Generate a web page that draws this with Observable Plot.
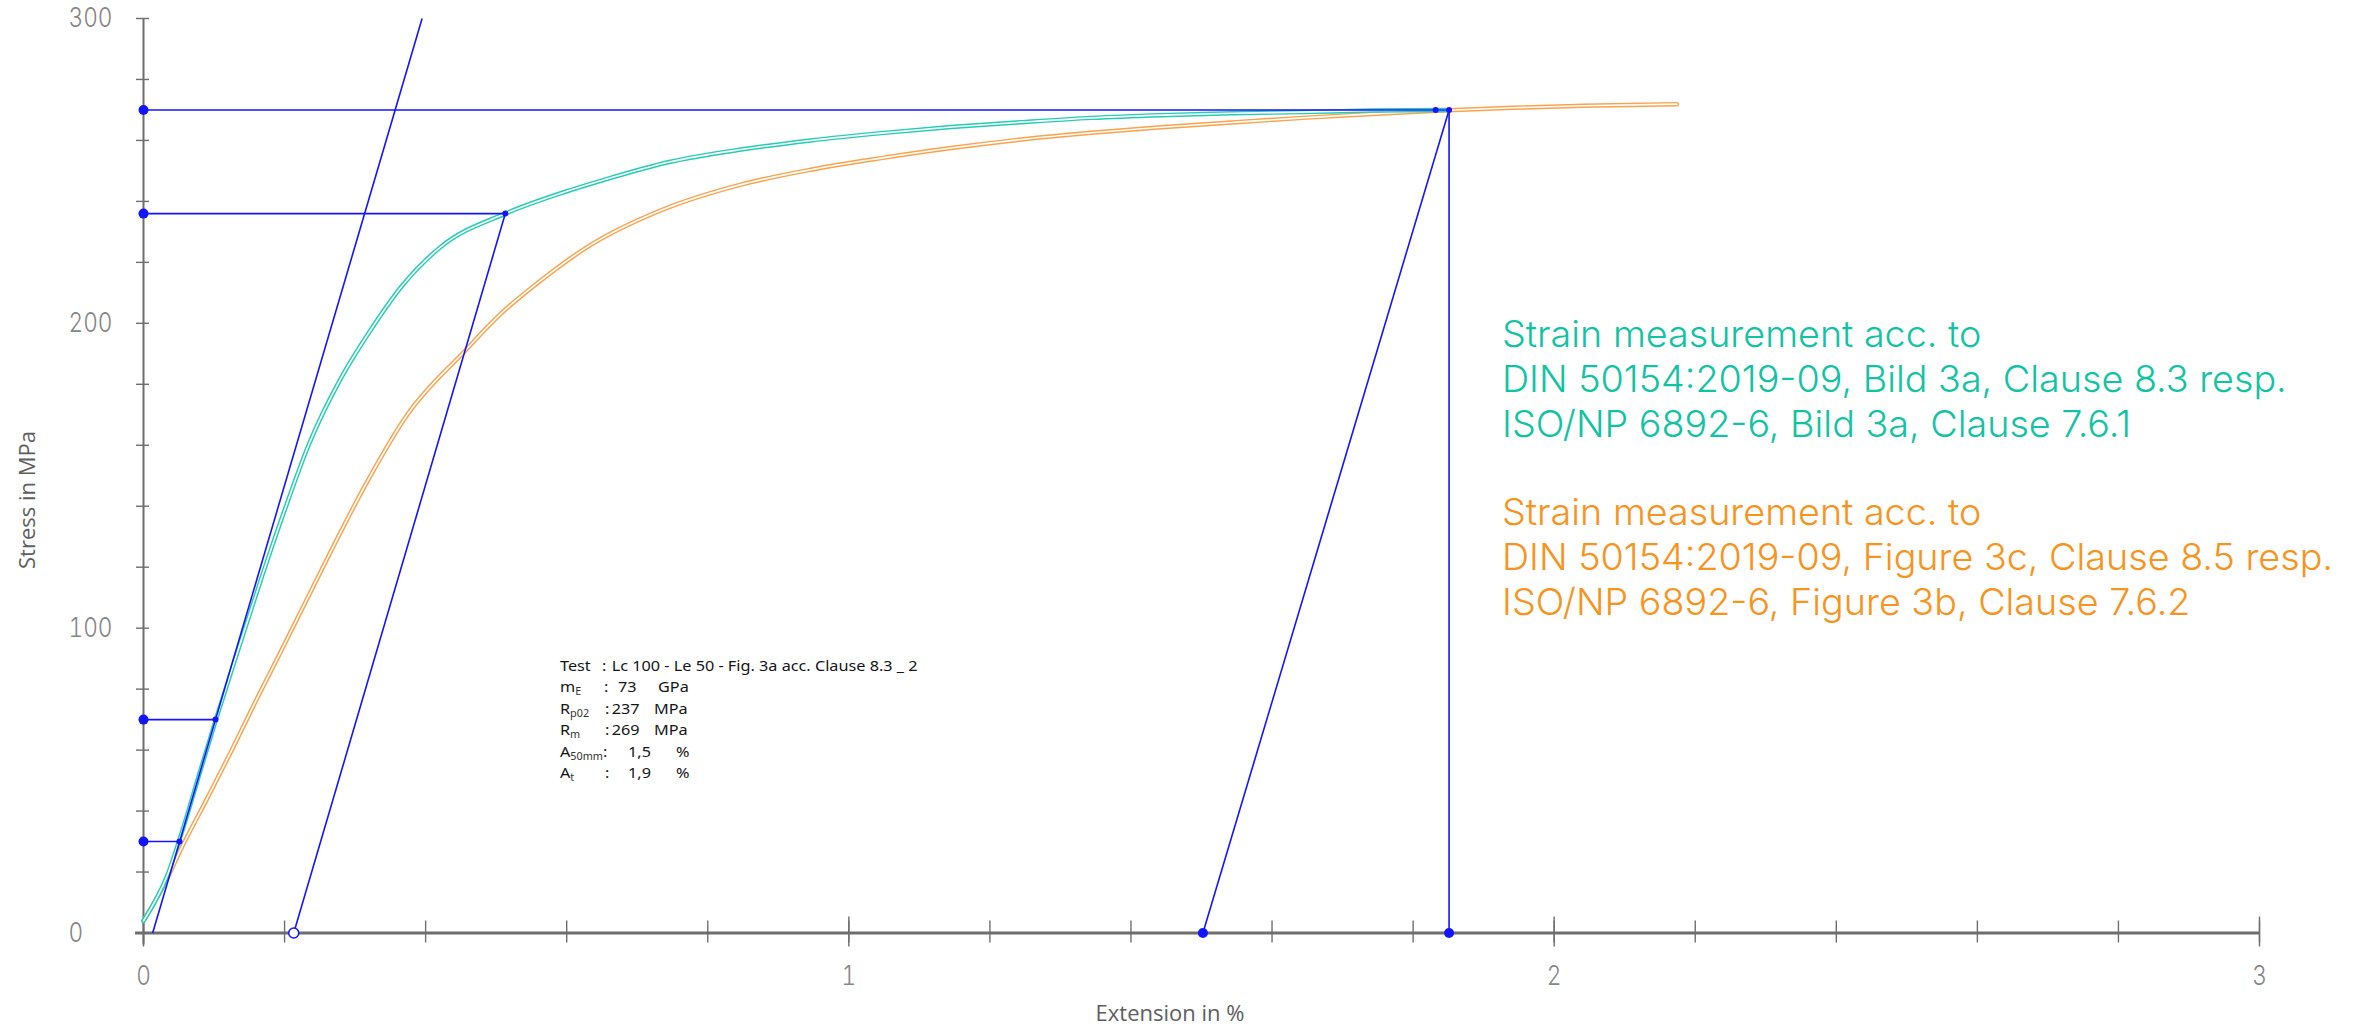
<!DOCTYPE html>
<html><head><meta charset="utf-8">
<script src="https://cdn.jsdelivr.net/npm/d3@7"></script>
<script src="https://cdn.jsdelivr.net/npm/@observablehq/plot@0.6"></script>
<style>
body{margin:0;background:#fff;}
#wrap{position:relative;width:2354px;height:1027px;overflow:hidden;background:#fff;}
#wrap svg{position:absolute;left:0;top:0;}
</style></head><body><div id="wrap"></div>
<script>
// ---- data ----
const tealExt = [0, 0.034, 0.057, 0.079, 0.104, 0.133, 0.168, 0.199, 0.234, 0.280, 0.317, 0.369, 0.421, 0.513, 0.596, 0.652, 0.747, 0.847, 0.946, 1.046, 1.145, 1.245, 1.344, 1.443, 1.543, 1.643, 1.742, 1.846];
const tealStress = [4, 19, 35, 52, 71, 92, 117, 138, 160, 182, 196, 213, 225, 236, 243, 247, 253, 257, 260, 262.4, 264.4, 266, 267.4, 268.3, 268.9, 269.3, 269.8, 270];
const orangeExt = [0, 0.034, 0.052, 0.090, 0.123, 0.159, 0.194, 0.222, 0.263, 0.317, 0.374, 0.456, 0.506, 0.563, 0.629, 0.733, 0.847, 0.946, 1.046, 1.145, 1.245, 1.344, 1.443, 1.543, 1.643, 1.742, 1.842, 1.941, 2.041, 2.174];
const orangeStress = [4, 18, 27, 44, 59, 76, 92, 105, 124, 148, 170, 191, 203, 214, 225, 237, 245.5, 250.4, 254.2, 257.5, 260.3, 262.5, 264.3, 265.9, 267.4, 268.7, 269.8, 270.7, 271.4, 271.9];
// construction lines (start/end extension, start/end stress)
const lineNames = ["elastic", "offset", "unload", "vertical"];
const lineExt1 = [0.013, 0.213, 1.502, 1.851];
const lineExt2 = [0.395, 0.513, 1.851, 1.851];
const lineStress1 = [0, 0, 0, 0];
const lineStress2 = [300, 236, 270, 270];
// horizontal markers from y axis
const markStress = [30, 70, 236, 270];
const markExt = [0.051, 0.102, 0.513, 1.851];
// dots
const bigDotExt = [0, 0, 0, 0, 1.502, 1.851];
const bigDotStress = [30, 70, 236, 270, 0, 0];
const smallDotExt = [0.051, 0.102, 0.513, 1.832, 1.851];
const smallDotStress = [30, 70, 236, 270, 270];
const openDotExt = [0.213];
const openDotStress = [0];
// ticks
const xTicks = [0, 0.2, 0.4, 0.6, 0.8, 1, 1.2, 1.4, 1.6, 1.8, 2, 2.2, 2.4, 2.6, 2.8, 3];
const xMajor = [0, 1, 2, 3];
const yTicks = [0, 20, 40, 60, 80, 100, 120, 140, 160, 180, 200, 220, 240, 260, 280, 300];
const yMajor = [0, 100, 200, 300];
// texts
const xLabel = "Extension in %";
const yLabel = "Stress in MPa";
const legendTeal = ["Strain measurement acc. to", "DIN 50154:2019-09, Bild 3a, Clause 8.3 resp.", "ISO/NP 6892-6, Bild 3a, Clause 7.6.1"];
const legendOrange = ["Strain measurement acc. to", "DIN 50154:2019-09, Figure 3c, Clause 8.5 resp.", "ISO/NP 6892-6, Figure 3b, Clause 7.6.2"];
const infoLabels = [["Test", ""], ["m", "E"], ["R", "p02"], ["R", "m"], ["A", "50mm"], ["A", "t"]];
const infoValues = ["Lc 100 - Le 50 - Fig. 3a acc. Clause 8.3 _ 2", "73", "237", "269", "1,5", "1,9"];
const infoUnits = ["", "GPa", "MPa", "MPa", "%", "%"];

// ---- tables ----
const teal = tealExt.map((x, i) => ({x, y: tealStress[i]}));
const orange = orangeExt.map((x, i) => ({x, y: orangeStress[i]}));
const segs = lineNames.map((n, i) => ({n, x1: lineExt1[i], x2: lineExt2[i], y1: lineStress1[i], y2: lineStress2[i]}));
const marks = markStress.map((y, i) => ({y, x1: 0, x2: markExt[i]}));
const bigDots = bigDotExt.map((x, i) => ({x, y: bigDotStress[i]}));
const smallDots = smallDotExt.map((x, i) => ({x, y: smallDotStress[i]}));
const openDots = openDotExt.map((x, i) => ({x, y: openDotStress[i]}));

const BLUE = "#1414ff", TEAL = "#26cdb1", ORANGE = "#fba24c", AX = "#6e6e6e";
const tickFont = {fontSize: 27, fill: "#858585", fontFamily: "Inter, sans-serif", fontWeight: 300, tickFormat: d => String(d)};

const svg = Plot.plot({
  width: 2354, height: 1027,
  marginLeft: 143, marginRight: 95, marginTop: 18, marginBottom: 94.5,
  x: {domain: [0, 3]},
  y: {domain: [0, 300]},
  style: {background: "white", fontFamily: "Inter, sans-serif", overflow: "visible"},
  marks: [
    Plot.ruleX([0], {stroke: AX, strokeWidth: 2, insetBottom: -12}),
    Plot.ruleY([0], {stroke: AX, strokeWidth: 3, insetLeft: -8}),
    Plot.axisX(xTicks, {tickSize: 10, stroke: AX, strokeWidth: 1.4, text: null, label: null}),
    Plot.axisX(xTicks, {tickSize: -12, stroke: AX, strokeWidth: 1.4, text: null, label: null}),
    Plot.axisX(xMajor, {tickSize: 14, stroke: AX, strokeWidth: 1.4, text: null, label: null}),
    Plot.axisX(xMajor, {tickSize: -16, stroke: AX, strokeWidth: 1.4, text: null, label: null}),
    Plot.axisX(xMajor, {tickSize: 0, tickPadding: 33, label: null, ...tickFont}),
    Plot.axisY(yTicks, {tickSize: 7, stroke: AX, strokeWidth: 1.4, text: null, label: null}),
    Plot.axisY(yTicks, {tickSize: -6, stroke: AX, strokeWidth: 1.4, text: null, label: null}),
    Plot.axisY(yMajor, {tickSize: 0, tickPadding: 75, textAnchor: "start", label: null, ...tickFont}),
    // curves (double line look)
    Plot.line(orange, {x: "x", y: "y", stroke: ORANGE, strokeWidth: 4.5, curve: "monotone-x"}),
    Plot.line(orange, {x: "x", y: "y", stroke: "white", strokeWidth: 1.6, curve: "monotone-x"}),
    Plot.line(teal, {x: "x", y: "y", stroke: TEAL, strokeWidth: 4.5, curve: "monotone-x"}),
    Plot.line(teal, {x: "x", y: "y", stroke: "white", strokeWidth: 1.6, curve: "monotone-x"}),
    // construction lines
    Plot.link(segs, {x1: "x1", x2: "x2", y1: "y1", y2: "y2", stroke: BLUE, strokeWidth: 1.6}),
    Plot.link(marks, {x1: "x1", x2: "x2", y1: "y", y2: "y", stroke: BLUE, strokeWidth: 1.6}),
    Plot.dot(bigDots, {x: "x", y: "y", r: 5, fill: BLUE}),
    Plot.dot(smallDots, {x: "x", y: "y", r: 3, fill: BLUE}),
    Plot.dot(openDots, {x: "x", y: "y", r: 5, fill: "white", stroke: BLUE, strokeWidth: 1.5})
  ]
});
document.getElementById("wrap").append(svg);
const s = d3.select(svg);
s.selectAll('[aria-label="x-axis tick label"] text, [aria-label="y-axis tick label"] text')
  .attr("transform", function () { return (this.getAttribute("transform") || "") + " scale(0.84,1)"; });

// axis titles
s.append("text").attr("transform", "translate(35,500) rotate(-90)").attr("text-anchor", "middle")
  .attr("font-family", "Open Sans, sans-serif").attr("font-size", 22).attr("fill", "#5e5e5e").text(yLabel);
s.append("text").attr("x", 1170).attr("y", 1021).attr("text-anchor", "middle")
  .attr("font-family", "Open Sans, sans-serif").attr("font-size", 22).attr("fill", "#5e5e5e").text(xLabel);

// legend
const lg = s.append("g").attr("text-anchor", "start").attr("font-family", "Inter, sans-serif").attr("font-weight", 300).attr("font-size", 37);
const legendRows = [
  ...legendTeal.map((t, i) => ({t, c: "#12c3a3", y: 346.7 + i * 45})),
  ...legendOrange.map((t, i) => ({t, c: "#f7941d", y: 525 + i * 45}))
];
const lgTexts = lg.selectAll("text").data(legendRows).join("text").attr("x", 0).attr("y", d => d.y).attr("fill", d => d.c).text(d => d.t);
const refLen = lgTexts.nodes()[1].getComputedTextLength();
const kL = 785 / refLen;
lg.attr("transform", `translate(1502,0) scale(${kL},1)`);

// info box
const ib = s.append("g").attr("text-anchor", "start").attr("font-family", "Noto Sans, sans-serif").attr("font-size", 15).attr("fill", "#151515");
const rowsY = [670.7, 692, 713.5, 735, 756.5, 778];
const colonX = [602, 604, 605, 605, 603, 605];
const valX = [611.7, 618, 611.7, 611.7, 628, 628];
const unitX = [0, 658, 654, 654, 676, 676];
const probe = ib.append("text").text(infoValues[0]);
const kI = 306 / probe.node().getComputedTextLength();
probe.remove();
infoLabels.forEach((lab, i) => {
  const t = ib.append("text").attr("transform", `translate(560,${rowsY[i]}) scale(${kI},1)`);
  t.append("tspan").text(lab[0]);
  if (lab[1]) t.append("tspan").attr("font-size", 10).attr("dy", 3).attr("fill", "#333").text(lab[1]);
  ib.append("text").attr("transform", `translate(${colonX[i]},${rowsY[i]}) scale(${kI},1)`).text(":");
  ib.append("text").attr("transform", `translate(${valX[i]},${rowsY[i]}) scale(${kI},1)`).text(infoValues[i]);
  if (infoUnits[i]) ib.append("text").attr("transform", `translate(${unitX[i]},${rowsY[i]}) scale(${kI},1)`).text(infoUnits[i]);
});
</script>
</body></html>
